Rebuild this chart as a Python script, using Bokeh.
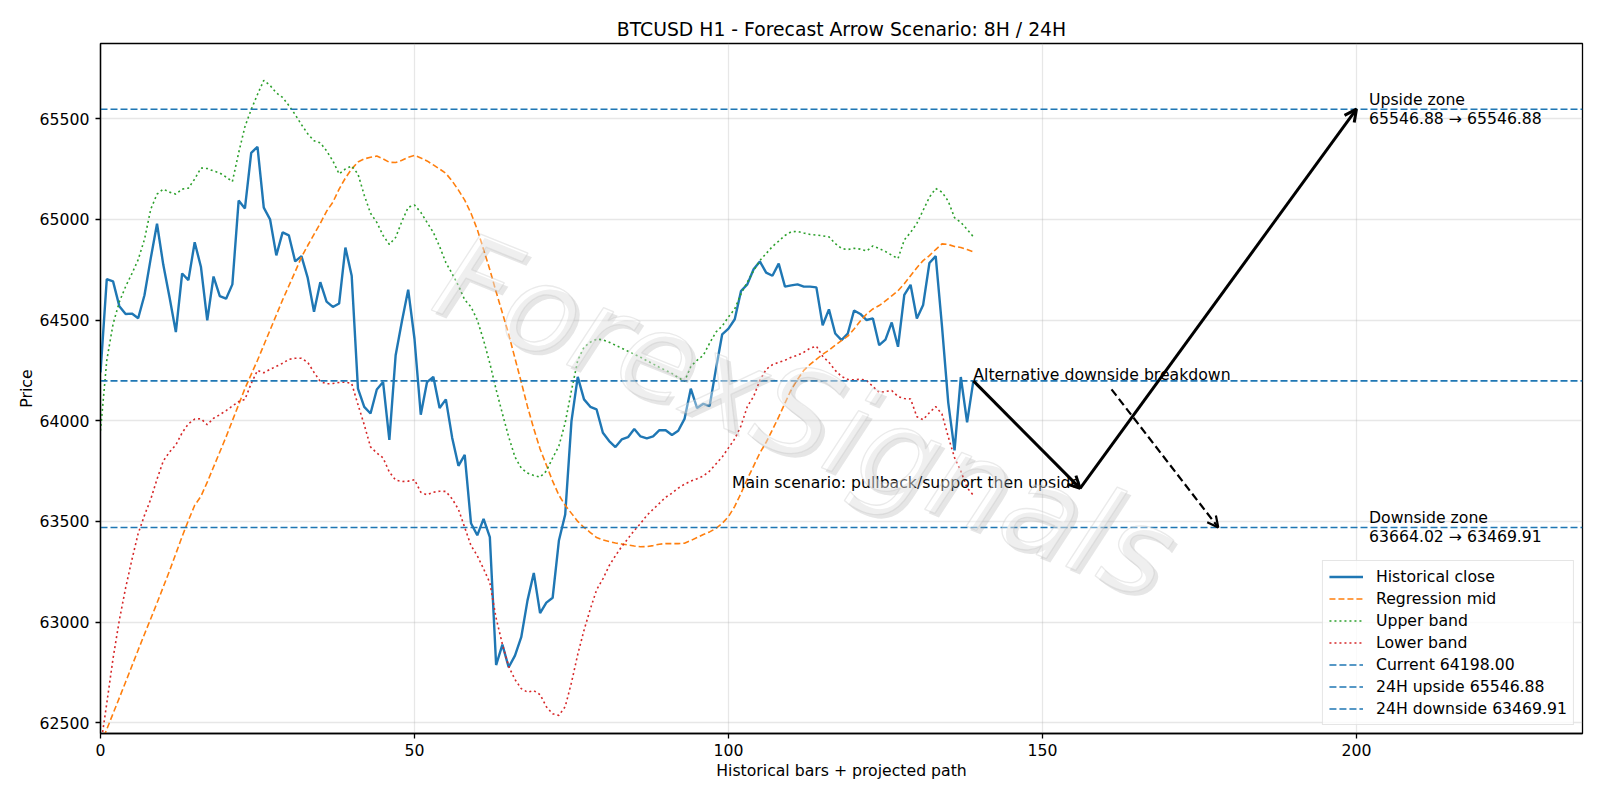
from bokeh.plotting import figure
from bokeh.models import Range1d, Legend, LegendItem, Arrow, OpenHead, Label, FixedTicker
from bokeh.core.properties import value
from bokeh.embed import file_html
from bokeh.resources import INLINE

# ---------------- data ----------------
close = [64240, 64703, 64692, 64569, 64530, 64532, 64509, 64623, 64806, 64978,
         64774, 64612, 64440, 64731, 64698, 64886, 64763, 64498, 64716, 64619,
         64606, 64677, 65093, 65054, 65330, 65360, 65058, 65000, 64821, 64935,
         64920, 64791, 64817, 64709, 64541, 64688, 64591, 64565, 64582, 64860,
         64720, 64159, 64069, 64036, 64155, 64192, 63905, 64325, 64494, 64651,
         64407, 64030, 64192, 64218, 64063, 64106, 63916, 63776, 63830, 63491,
         63431, 63513, 63422, 62787, 62888, 62776, 62834, 62925, 63108, 63244,
         63045, 63097, 63121, 63405, 63534, 63998, 64218, 64106, 64069, 64056,
         63940, 63899, 63869, 63907, 63918, 63959, 63922, 63912, 63922, 63953,
         63953, 63929, 63950, 64009, 64159, 64063, 64084, 64073, 64256, 64429,
         64457, 64504, 64644, 64677, 64752, 64791, 64735, 64720, 64780, 64666,
         64672, 64677, 64666, 64666, 64662, 64474, 64553, 64433, 64400, 64433,
         64547, 64530, 64500, 64508, 64375, 64403, 64488, 64367, 64625, 64675,
         64508, 64575, 64783, 64817, 64470, 64090, 63853, 64217, 63992, 64198]

mid = [62390, 62468, 62546, 62624, 62703, 62782, 62862, 62940, 63017, 63095,
       63175, 63255, 63340, 63425, 63505, 63580, 63625, 63695, 63770, 63845,
       63920, 64000, 64080, 64160, 64230, 64300, 64375, 64450, 64525, 64600,
       64670, 64740, 64812, 64870, 64925, 64980, 65040, 65085, 65150, 65205,
       65250, 65285, 65300, 65308, 65314, 65300, 65283, 65282, 65293, 65308,
       65318, 65305, 65290, 65270, 65250, 65228, 65190, 65145, 65095, 65030,
       64950, 64850, 64750, 64640, 64535, 64430, 64310, 64192, 64070, 63960,
       63860, 63780, 63700, 63630, 63580, 63540, 63500, 63470, 63445, 63420,
       63408, 63400, 63393, 63388, 63383, 63378, 63374, 63375, 63380, 63387,
       63390, 63390, 63390, 63392, 63405, 63420, 63435, 63448, 63465, 63490,
       63524, 63575, 63640, 63710, 63775, 63840, 63893, 63955, 64019, 64087,
       64155, 64205, 64250, 64280, 64305, 64330, 64350, 64375, 64398, 64420,
       64455, 64495, 64530, 64555, 64572, 64595, 64620, 64645, 64680, 64720,
       64760, 64795, 64820, 64850, 64878, 64875, 64865, 64860, 64850, 64838]

upper = [63950, 64300, 64480, 64590, 64666, 64730, 64800, 64900, 65050, 65125,
         65150, 65135, 65125, 65150, 65155, 65200, 65255, 65252, 65240, 65230,
         65210, 65187, 65330, 65460, 65545, 65620, 65690, 65665, 65628, 65605,
         65565, 65520, 65470, 65425, 65390, 65380, 65340, 65290, 65225, 65250,
         65265, 65225, 65120, 65030, 64985, 64920, 64875, 64910, 64990, 65060,
         65071, 65035, 64985, 64935, 64865, 64785, 64730, 64670, 64600, 64565,
         64500, 64400, 64285, 64155, 64035, 63920, 63820, 63765, 63740, 63728,
         63720, 63750, 63815, 63875, 63990, 64150, 64300, 64365, 64390, 64405,
         64402, 64390, 64375, 64360, 64345, 64330, 64315, 64298, 64282, 64265,
         64250, 64235, 64215, 64195, 64270, 64300, 64325, 64385, 64440, 64470,
         64515, 64555, 64630, 64688, 64745, 64795, 64830, 64865, 64892, 64920,
         64938, 64940, 64932, 64925, 64922, 64918, 64913, 64880, 64855, 64850,
         64856, 64852, 64843, 64868, 64855, 64840, 64822, 64805, 64898, 64935,
         64980, 65045, 65110, 65153, 65135, 65090, 65008, 64985, 64950, 64913]

lower = [62380, 62597, 62820, 63010, 63170, 63310, 63440, 63530, 63610, 63710,
         63800, 63845, 63880, 63940, 63985, 64008, 64010, 63980, 64012, 64030,
         64050, 64073, 64095, 64106, 64185, 64250, 64238, 64255, 64270, 64285,
         64305, 64310, 64310, 64290, 64240, 64195, 64183, 64185, 64190, 64192,
         64185, 64080, 63980, 63870, 63840, 63815, 63745, 63705, 63698, 63700,
         63707, 63645, 63632, 63645, 63650, 63649, 63612, 63560, 63470, 63380,
         63330, 63265, 63195, 63020, 62890, 62780, 62715, 62670, 62652, 62660,
         62640, 62580, 62545, 62537, 62580, 62700, 62840, 62960, 63065, 63160,
         63215, 63280, 63330, 63375, 63415, 63455, 63490, 63530, 63560, 63590,
         63620, 63640, 63665, 63685, 63700, 63712, 63725, 63750, 63785, 63820,
         63865, 63910, 63975, 64070, 64120, 64200, 64255, 64278, 64290, 64300,
         64315, 64325, 64340, 64360, 64370, 64320, 64290, 64250, 64220, 64205,
         64203, 64206, 64200, 64170, 64140, 64145, 64150, 64120, 64110, 64108,
         64020, 64005, 64040, 64070, 64033, 63920, 63817, 63750, 63667, 63630]

bars = list(range(len(close)))

CURRENT = 64198.00
UP_24H = 65546.88
DOWN_8H = 63664.02
DOWN_24H = 63469.91

# projected main path: now -> 8H pullback -> 24H upside
path_x = [139, 156, 200]
path_y = [CURRENT, DOWN_8H, UP_24H]
# alternative dashed path
alt_x = [161, 178]
alt_y = [64156, DOWN_24H]
zone_x = 202

x_ticks = [0, 50, 100, 150, 200]
y_ticks = [62500, 63000, 63500, 64000, 64500, 65000, 65500]
X0, X1 = 0, 236
Y0, Y1 = 62447, 65873

FONT = "DejaVu Sans"
FS = "15.7px"
BLUE, ORANGE, GREEN, RED = "#1f77b4", "#ff7f0e", "#2ca02c", "#d62728"

p = figure(width=1600, height=800, x_range=Range1d(X0, X1), y_range=Range1d(Y0, Y1),
           output_backend="svg", toolbar_location=None,
           min_border_left=100, min_border_right=18, min_border_top=43, min_border_bottom=67,
           title="BTCUSD H1 - Forecast Arrow Scenario: 8H / 24H")
p.background_fill_color = "white"
p.border_fill_color = "white"
p.outline_line_color = "black"
p.outline_line_width = 1.3

p.title.align = "center"
p.title.text_font = FONT
p.title.text_font_size = "18.8px"
p.title.text_font_style = "normal"
p.title.text_color = "black"
p.title.standoff = 8

for ax, ticks in ((p.xaxis[0], x_ticks), (p.yaxis[0], y_ticks)):
    ax.ticker = FixedTicker(ticks=ticks)
    ax.major_label_text_font = FONT
    ax.major_label_text_font_size = FS
    ax.major_label_text_color = "black"
    ax.axis_label_text_font = FONT
    ax.axis_label_text_font_size = FS
    ax.axis_label_text_font_style = "normal"
    ax.axis_label_text_color = "black"
    ax.minor_tick_line_color = None
    ax.major_tick_in = 0
    ax.major_tick_out = 5
    ax.major_tick_line_width = 1.3
    ax.axis_line_width = 1.3
    ax.major_label_standoff = 5

p.xaxis.axis_label = "Historical bars + projected path"
p.yaxis.axis_label = "Price"
p.xaxis.axis_label_standoff = 2
p.yaxis.axis_label_standoff = 1
p.yaxis.major_label_standoff = 6

p.grid.grid_line_color = "#b0b0b0"
p.grid.grid_line_alpha = 0.3
p.grid.grid_line_width = 1.26
p.xgrid.ticker = FixedTicker(ticks=x_ticks)
p.ygrid.ticker = FixedTicker(ticks=y_ticks)

# watermark (shadow + outlined light text)
wm_x = X0 + 0.476 * (X1 - X0)
wm_y = Y0 + 0.46 * (Y1 - Y0)
p.add_layout(Label(x=wm_x, y=wm_y, x_offset=4, y_offset=-4, text="ForexSignals",
                   angle=-22, angle_units="deg", text_align="center", text_baseline="middle",
                   text_font=FONT, text_font_size="122px", text_font_style="italic",
                   text_color="#9a9a9a", text_alpha=0.25))
p.add_layout(Label(x=wm_x, y=wm_y, text="ForexSignals",
                   angle=-22, angle_units="deg", text_align="center", text_baseline="middle",
                   text_font=FONT, text_font_size="122px", text_font_style="italic",
                   text_color="#ffffff", text_alpha=0.35,
                   text_outline_color="#c4c4c4"))

r_close = p.line(bars, close, line_color=BLUE, line_width=2.4)
r_mid = p.line(bars, mid, line_color=ORANGE, line_width=1.6, line_dash="6 3")
r_up = p.line(bars, upper, line_color=GREEN, line_width=1.6, line_dash="2 3")
r_lo = p.line(bars, lower, line_color=RED, line_width=1.6, line_dash="2 3")

hx = [X0, X1]
r_cur = p.line(hx, [CURRENT, CURRENT], line_color=BLUE, line_width=1.6, line_dash="7 3")
r_upz = p.line(hx, [UP_24H, UP_24H], line_color=BLUE, line_width=1.6, line_dash="7 3")
r_dnz = p.line(hx, [DOWN_24H, DOWN_24H], line_color=BLUE, line_width=1.6, line_dash="7 3")

# arrows
for i in range(len(path_x) - 1):
    p.add_layout(Arrow(end=OpenHead(size=12, line_width=3, line_color="black"),
                       x_start=path_x[i], y_start=path_y[i],
                       x_end=path_x[i + 1], y_end=path_y[i + 1],
                       line_width=3, line_color="black"))
p.add_layout(Arrow(end=OpenHead(size=11, line_width=2.2, line_color="black"),
                   x_start=alt_x[0], y_start=alt_y[0], x_end=alt_x[1], y_end=alt_y[1],
                   line_width=2.2, line_color="black", line_dash="8 4"))

# annotations
p.text(x=[path_x[0]], y=[path_y[0]], text=["Alternative downside breakdown"],
       text_font=value(FONT), text_font_size=FS, text_color="black",
       text_align="left", text_baseline="alphabetic", y_offset=-6)
p.text(x=[path_x[1]], y=[path_y[1]], text=["Main scenario: pullback/support then upside"],
       text_font=value(FONT), text_font_size=FS, text_color="black",
       text_align="right", text_baseline="alphabetic", y_offset=-6)
p.text(x=[zone_x, zone_x], y=[UP_24H, DOWN_24H],
       text=[f"Upside zone\n{UP_24H:.2f} \u2192 {UP_24H:.2f}",
             f"Downside zone\n{DOWN_8H:.2f} \u2192 {DOWN_24H:.2f}"],
       text_font=value(FONT), text_font_size=FS, text_color="black",
       text_align="left", text_baseline="middle", text_line_height=1.0)

legend = Legend(items=[
    LegendItem(label="Historical close", renderers=[r_close]),
    LegendItem(label="Regression mid", renderers=[r_mid]),
    LegendItem(label="Upper band", renderers=[r_up]),
    LegendItem(label="Lower band", renderers=[r_lo]),
    LegendItem(label=f"Current {CURRENT:.2f}", renderers=[r_cur]),
    LegendItem(label=f"24H upside {UP_24H:.2f}", renderers=[r_upz]),
    LegendItem(label=f"24H downside {DOWN_24H:.2f}", renderers=[r_dnz]),
], location="bottom_right")
legend.label_text_font = FONT
legend.label_text_font_size = FS
legend.label_text_color = "black"
legend.glyph_width = 34
legend.glyph_height = 17
legend.label_standoff = 13
legend.spacing = 3
legend.padding = 6
legend.margin = 8
legend.border_line_color = "#cccccc"
legend.border_line_width = 1.3
legend.background_fill_alpha = 0.8
p.add_layout(legend)

open("out.html", "w").write(file_html(p, INLINE))
